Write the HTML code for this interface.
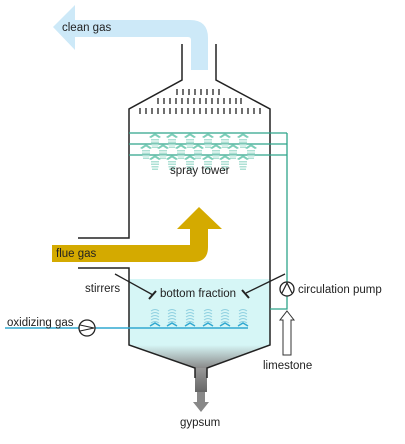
<!DOCTYPE html>
<html><head><style>body{margin:0;background:#fff}svg{display:block}text{font-family:"Liberation Sans",sans-serif;font-size:11.5px;fill:#222}</style></head><body>
<svg width="405" height="444" viewBox="0 0 405 444">
<defs>
<linearGradient id="lq" x1="0" y1="0" x2="0" y2="1"><stop offset="0" stop-color="#d6f6f6"/><stop offset="0.75" stop-color="#d6f6f6"/><stop offset="1" stop-color="#d6f6f6"/></linearGradient>
<linearGradient id="cone" x1="0" y1="0" x2="0" y2="1"><stop offset="0" stop-color="#d6f6f6"/><stop offset="1" stop-color="#8a8a8a"/></linearGradient>
<linearGradient id="pipe" x1="0" y1="0" x2="0" y2="1"><stop offset="0" stop-color="#999"/><stop offset="1" stop-color="#666"/></linearGradient>
<g id="noz" fill="#aee0d4"><path d="M-6,0 L0,-4 L6,0 L4,1 L0,-1.5 L-4,1Z" fill="#7ccdb8"/><rect x="-4" y="2" width="8" height="1.5"/><rect x="-4" y="4.5" width="8" height="1.5"/><rect x="-3.5" y="7" width="7" height="1.5"/><rect x="-3" y="9.5" width="6" height="1.5"/></g>
<g id="bub" fill="none" stroke="#8fd0e0" stroke-width="1"><path d="M-4,-14 q4,-3 8,0 M-4,-11 q4,-3 8,0 M-4,-8 q4,-3 8,0 M-4,-5 q4,-3 8,0 M-4,-2 q4,-3 8,0"/><path d="M-5,1 L0,-2 L5,1" stroke="#30a8d0" stroke-width="1.5"/></g>
</defs>
<!-- clean gas -->
<path d="M75,20 H190 Q208,20 208,38 V70 H191 V40 Q191,37 188,37 H75 V50 L53,27 L75,5 Z" fill="#cde9f8"/>
<text x="62" y="31">clean gas</text>
<!-- liquid -->
<rect x="129" y="279" width="141" height="66" fill="#d6f6f6"/>
<path d="M129,345 L270,345 L207,368 L195,368Z" fill="url(#cone)"/>
<rect x="195" y="368" width="12" height="24" fill="url(#pipe)"/>
<path d="M197,392 H205 V402 H209 L201,412 L193,402 H197Z" fill="#888"/>
<!-- tower outline -->
<g fill="none" stroke="#222" stroke-width="1.5">
<path d="M182,44 V80 L129,109 V238 H78"/>
<path d="M216,44 V80 L270,109 V345 L207,368 V378"/>
<path d="M78,268 H129 V345 L195,368 V378"/>
</g>
<!-- dashes -->
<g stroke="#222" stroke-width="1.3">
<path d="M177,89 v6 M183,89 v6 M189,89 v6 M195,89 v6 M201,89 v6 M207,89 v6 M213,89 v6 M219,89 v6"/>
<path d="M158,98 v6 M164,98 v6 M170,98 v6 M176,98 v6 M182,98 v6 M188,98 v6 M194,98 v6 M200,98 v6 M206,98 v6 M212,98 v6 M218,98 v6 M224,98 v6 M230,98 v6 M236,98 v6 M241,98 v6"/>
<path d="M140,108 v6 M146,108 v6 M152,108 v6 M158,108 v6 M164,108 v6 M170,108 v6 M176,108 v6 M182,108 v6 M188,108 v6 M194,108 v6 M200,108 v6 M206,108 v6 M212,108 v6 M218,108 v6 M224,108 v6 M230,108 v6 M236,108 v6 M242,108 v6 M248,108 v6 M254,108 v6 M260,108 v6"/>
</g>
<!-- green piping -->
<g fill="none" stroke="#2ea58a" stroke-width="1.3">
<path d="M129,133 H287 M129,144 H287 M129,155 H287 M287,133 V309 H270"/>
</g>
<g>
<use href="#noz" x="155" y="137"/><use href="#noz" x="172" y="137"/><use href="#noz" x="190" y="137"/><use href="#noz" x="208" y="137"/><use href="#noz" x="225" y="137"/><use href="#noz" x="243" y="137"/>
<use href="#noz" x="146" y="148"/><use href="#noz" x="163" y="148"/><use href="#noz" x="181" y="148"/><use href="#noz" x="198" y="148"/><use href="#noz" x="216" y="148"/><use href="#noz" x="233" y="148"/><use href="#noz" x="251" y="148"/>
<use href="#noz" x="155" y="159"/><use href="#noz" x="172" y="159"/><use href="#noz" x="190" y="159"/><use href="#noz" x="208" y="159"/><use href="#noz" x="225" y="159"/><use href="#noz" x="243" y="159"/>
</g>
<text x="170" y="174">spray tower</text>
<!-- flue gas -->
<path d="M52,245 H190 V229 H177 L199,207 L222,229 H208 V247 Q208,262 193,262 H52Z" fill="#d4aa00"/>
<text x="56" y="257">flue gas</text>
<!-- pump -->
<circle cx="287" cy="289" r="7" fill="#fff" stroke="#222" stroke-width="1.3"/>
<path d="M282,293 L287,283 L292,293" fill="none" stroke="#222" stroke-width="1.2"/>
<text x="298" y="293">circulation pump</text>
<!-- limestone -->
<path d="M287,311 L294,320 H291 V355 H283 V320 H280Z" fill="#fff" stroke="#333" stroke-width="1"/>
<text x="263" y="369">limestone</text>
<!-- stirrers -->
<g stroke="#222" stroke-width="1.3" fill="none"><path d="M115,274 L153,295 M285,274 L246,293"/><path d="M149,299 L156,291 M242,290 L249,298" stroke-width="2"/></g>
<text x="85" y="292">stirrers</text>
<text x="160" y="297">bottom fraction</text>
<!-- oxidizing gas -->
<path d="M5,328 H248" stroke="#30a8d0" stroke-width="1.5"/>
<use href="#bub" x="155" y="325"/><use href="#bub" x="172" y="325"/><use href="#bub" x="190" y="325"/><use href="#bub" x="208" y="325"/><use href="#bub" x="225" y="325"/><use href="#bub" x="243" y="325"/>
<circle cx="87" cy="328" r="8" fill="#fff" stroke="#222" stroke-width="1.3"/>
<path d="M80,325 L94,328 L80,331" fill="none" stroke="#222" stroke-width="1.1"/>
<text x="7" y="326">oxidizing gas</text>
<text x="180" y="426">gypsum</text>
</svg>
</body></html>
